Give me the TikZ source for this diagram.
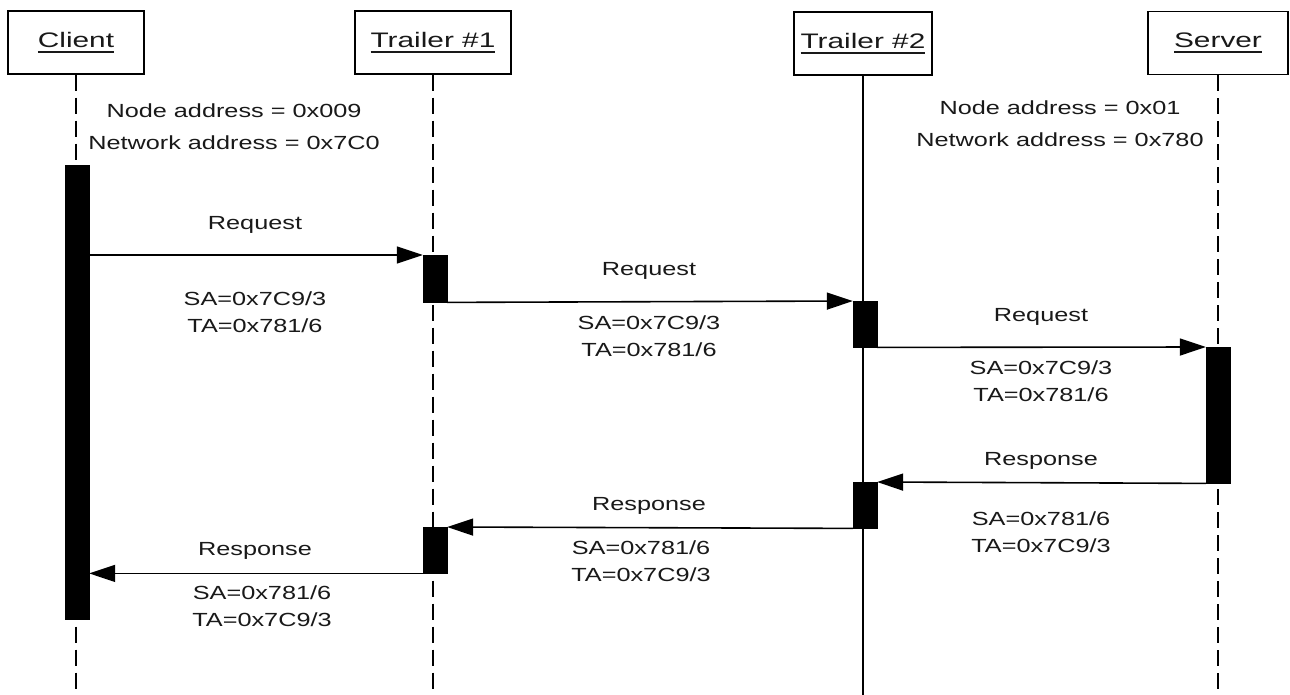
\documentclass[tikz,border=0pt]{standalone}
\usepackage{fontspec}
\setmainfont{Liberation Sans}[FakeStretch=1.33]
\newfontfamily\hdrfont{Liberation Sans}[FakeStretch=1.42]
\usetikzlibrary{arrows.meta}
\newcommand\ulhdr[1]{\setbox0\hbox{#1}\rlap{\rule[-5pt]{\wd0}{1.6pt}}\box0}
\begin{document}
\begin{tikzpicture}[x=1pt,y=-1pt,
  hdr/.style={draw=black, line width=1.4pt, minimum height=63pt, inner sep=0pt,
    font=\hdrfont\fontsize{21}{25}\selectfont, text=black!90},
  bar/.style={fill=black, draw=black, minimum width=24pt, inner sep=0pt, anchor=north},
  life/.style={line width=1.6pt, dash pattern=on 16pt off 7pt},
  solidlife/.style={line width=1.5pt},
  msg/.style={line width=1.6pt, -{Triangle[length=26pt,width=17pt]}},
  lbl/.style={font=\fontsize{19}{27}\selectfont, text=black!90, align=center, inner sep=0pt}]
\fill[white] (0,0) rectangle (1290,695);
\useasboundingbox (0,0) rectangle (1290,695);

% headers
\node[hdr, minimum width=136pt] (client) at (76,42.5) {\ulhdr{Client}};
\node[hdr, minimum width=156pt] (t1) at (433,42.5) {\ulhdr{Trailer \#1}};
\node[hdr, minimum width=138pt] (t2) at (863,43.5) {\ulhdr{Trailer \#2}};
\node[hdr, minimum width=140pt] (srv) at (1218,43) {\ulhdr{Server}};

% lifeline ends
\coordinate (cend) at (76,695);
\coordinate (t1end) at (433,695);
\coordinate (t2end) at (863,695);
\coordinate (send) at (1218,695);

\draw[life] (client.south) -- (cend);
\draw[life] (t1.south) -- (t1end);
\draw[solidlife] (t2.south) -- (t2end);
\draw[life] (srv.south) -- (send);

% activation bars
\node[bar, minimum height=454pt] (cb) at (77,165) {};
\node[bar, minimum height=47pt] (t1a) at (435,255) {};
\node[bar, minimum height=46pt] (t2a) at (865,301) {};
\node[bar, minimum height=136pt] (sb) at (1218,347) {};
\node[bar, minimum height=46pt] (t2b) at (865,482) {};
\node[bar, minimum height=46pt] (t1b) at (435,527) {};

% messages
\draw[msg] (cb.east |- t1a.north) -- (t1a.north west);
\draw[msg] (t1a.south east) -- (t2a.north west);
\draw[msg] (t2a.south east) -- (sb.north west);
\draw[msg] (sb.south west) -- (t2b.north east);
\draw[msg] (t2b.south west) -- (t1b.north east);
\draw[msg] (t1b.south west) -- (cb.east |- t1b.south);

% address notes
\node[lbl, font=\fontsize{19}{32}\selectfont] (caddr) at (234,127) {Node address = 0x009\\Network address = 0x7C0};
\node[lbl, font=\fontsize{19}{32}\selectfont] (saddr) at (1060,124) {Node address = 0x01\\Network address = 0x780};

% message labels
\node[lbl] (rq1) at (255,225) {Request};
\node[lbl] (rq1a) at (255,312) {SA=0x7C9/3\\TA=0x781/6};
\node[lbl] (rq2) at (649,271) {Request};
\node[lbl] (rq2a) at (649,336) {SA=0x7C9/3\\TA=0x781/6};
\node[lbl] (rq3) at (1041,317) {Request};
\node[lbl] (rq3a) at (1041,381) {SA=0x7C9/3\\TA=0x781/6};
\node[lbl] (rs1) at (1041,461) {Response};
\node[lbl] (rs1a) at (1041,532) {SA=0x781/6\\TA=0x7C9/3};
\node[lbl] (rs2) at (649,506) {Response};
\node[lbl] (rs2a) at (641,561) {SA=0x781/6\\TA=0x7C9/3};
\node[lbl] (rs3) at (255,551) {Response};
\node[lbl] (rs3a) at (262,606) {SA=0x781/6\\TA=0x7C9/3};
\end{tikzpicture}
\end{document}
